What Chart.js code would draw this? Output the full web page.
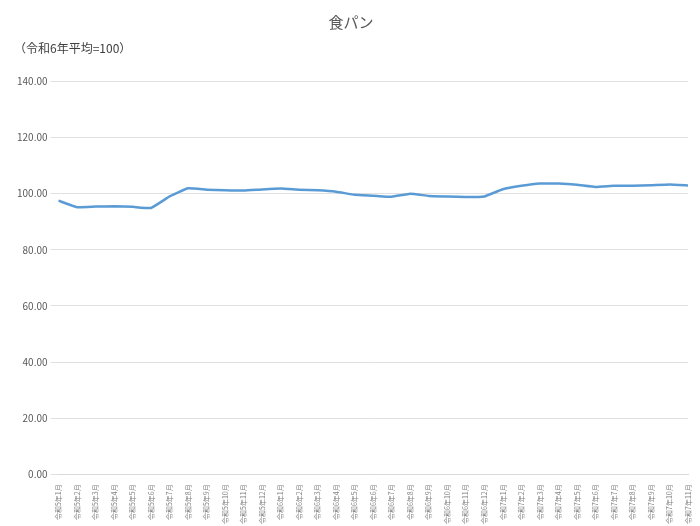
<!DOCTYPE html>
<html><head><meta charset="utf-8">
<script src="https://cdn.jsdelivr.net/npm/chart.js@4"></script>
<style>body{margin:0;background:#fff}#w{position:relative;width:700px;height:526px}</style>
</head><body><div id="w"><canvas id="c" width="700" height="526"></canvas></div>
<script>
const categories = [];
for (const y of [5,6,7]) for (let m=1;m<=12;m++){ if(y===7&&m>11)break; categories.push('令和'+y+'年'+m+'月'); }
const values = [97.5,95.2,95.4,95.5,95.3,94.9,99.0,101.9,101.4,101.2,101.1,101.5,101.8,101.4,101.2,100.7,99.6,99.3,98.9,100.0,99.2,99.0,98.8,99.0,101.6,102.8,103.6,103.6,103.2,102.4,102.8,102.8,103.0,103.3,102.9];
const F = "'Noto Sans CJK JP','Noto Sans',sans-serif";
new Chart(document.getElementById('c'), {
  type:'line',
  data:{labels:categories,datasets:[{data:values,borderColor:'#5b9bd5',borderWidth:2.5,pointRadius:0,tension:0.1}]},
  options:{responsive:false,animation:false,
    layout:{padding:{left:14,right:12,top:0,bottom:0}},
    plugins:{legend:{display:false},
      title:{display:true,text:'食パン',color:'#595959',font:{family:F,size:15,weight:'normal'},padding:{top:13,bottom:10}},
      subtitle:{display:true,text:'（令和6年平均=100）',align:'start',color:'#404040',font:{family:F,size:12},padding:{bottom:26}}},
    scales:{
      x:{grid:{display:false},border:{color:'#d9d9d9'},ticks:{color:'#808080',font:{family:F,size:7},maxRotation:90,minRotation:90,autoSkip:false,padding:2}},
      y:{min:0,max:140,ticks:{stepSize:20,color:'#595959',font:{family:F,size:10},callback:v=>v.toFixed(2)},grid:{color:'#e0e0e0'},border:{display:false}}
    }}
});
</script></body></html>
